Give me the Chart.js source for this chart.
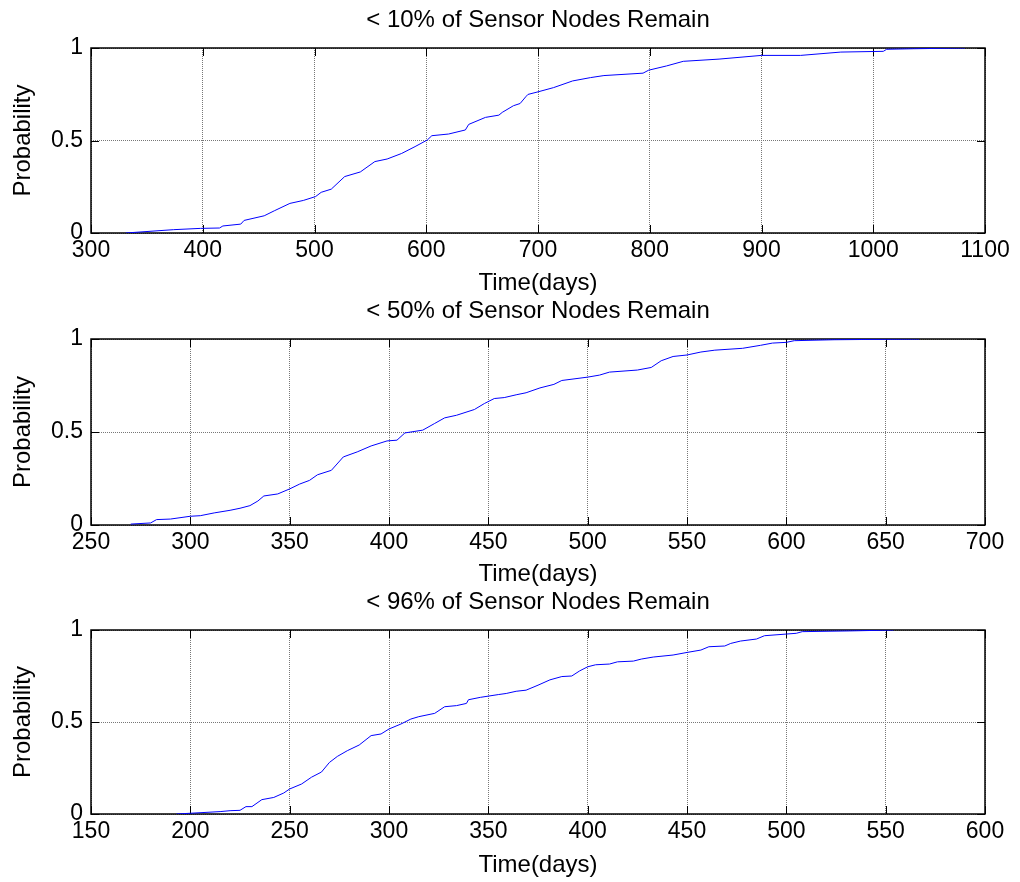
<!DOCTYPE html>
<html>
<head>
<meta charset="utf-8">
<title>Sensor network lifetime CDFs</title>
<script src="https://cdn.jsdelivr.net/npm/chart.js@4/dist/chart.umd.min.js"></script>
<style>
  body { margin: 0; background: #fff; }
  #wrap { position: relative; width: 1020px; height: 882px; }
  canvas { position: absolute; left: 0; }
</style>
</head>
<body>
<div id="wrap">
  <canvas id="c10" width="1020" height="300" style="top:0px"></canvas>
  <canvas id="c50" width="1020" height="300" style="top:291px"></canvas>
  <canvas id="c96" width="1020" height="300" style="top:582px"></canvas>
</div>
<script>
// empirical CDF of network lifetime, one panel per failure threshold
const days10 = [331, 374, 398, 415, 418, 434, 437, 455, 464, 478, 490, 501, 506, 515, 527, 541, 554, 565, 578, 590, 601, 605, 620, 635, 638, 653, 665, 668, 678, 684, 689, 691, 700, 714, 731, 747, 759, 794, 799, 815, 830, 862, 900, 935, 971, 1009, 1012, 1036, 1082];
const prob10 = [0, 0.018, 0.025, 0.027, 0.038, 0.048, 0.068, 0.093, 0.12, 0.16, 0.176, 0.197, 0.22, 0.237, 0.305, 0.33, 0.386, 0.40, 0.43, 0.467, 0.503, 0.526, 0.535, 0.557, 0.587, 0.625, 0.637, 0.652, 0.688, 0.70, 0.736, 0.749, 0.763, 0.786, 0.822, 0.84, 0.851, 0.864, 0.88, 0.903, 0.928, 0.94, 0.96, 0.96, 0.978, 0.982, 0.993, 0.996, 1.0];

const days50 = [270, 280, 283, 290, 300, 305, 312, 320, 325, 330, 334, 337, 344, 350, 355, 360, 364, 371, 377, 384, 391, 399, 404, 408, 417, 423, 428, 434, 443, 448, 453, 458, 464, 469, 476, 483, 487, 500, 506, 511, 525, 532, 537, 543, 550, 557, 564, 578, 587, 593, 600, 604, 624, 667];
const prob50 = [0.005, 0.011, 0.029, 0.032, 0.047, 0.05, 0.065, 0.079, 0.09, 0.104, 0.129, 0.156, 0.167, 0.194, 0.22, 0.24, 0.27, 0.294, 0.366, 0.393, 0.425, 0.452, 0.456, 0.495, 0.51, 0.546, 0.576, 0.59, 0.621, 0.653, 0.68, 0.685, 0.70, 0.711, 0.737, 0.756, 0.777, 0.795, 0.806, 0.822, 0.833, 0.847, 0.883, 0.906, 0.914, 0.93, 0.94, 0.95, 0.966, 0.978, 0.982, 0.991, 0.996, 1.0];

const days96 = [193, 200, 215, 220, 225, 228, 231, 236, 242, 247, 250, 256, 261, 266, 270, 274, 279, 285, 291, 296, 300, 306, 311, 315, 323, 328, 334, 339, 340, 346, 355, 359, 364, 369, 375, 381, 387, 392, 396, 400, 404, 411, 415, 423, 427, 433, 443, 450, 457, 461, 469, 472, 477, 485, 489, 500, 505, 508, 532, 554];
const prob96 = [0, 0.004, 0.013, 0.018, 0.02, 0.04, 0.04, 0.078, 0.09, 0.114, 0.136, 0.163, 0.2, 0.228, 0.28, 0.313, 0.344, 0.375, 0.426, 0.435, 0.462, 0.489, 0.516, 0.529, 0.547, 0.583, 0.589, 0.601, 0.621, 0.634, 0.649, 0.655, 0.667, 0.673, 0.70, 0.729, 0.747, 0.75, 0.778, 0.80, 0.811, 0.815, 0.827, 0.831, 0.842, 0.853, 0.864, 0.878, 0.891, 0.909, 0.913, 0.927, 0.94, 0.951, 0.969, 0.978, 0.982, 0.991, 0.995, 1.0];

// axis limits and tick spacing
const xRange10 = [300, 1100], xStep10 = 100;
const xRange50 = [250, 700], xStep50 = 50;
const xRange96 = [150, 600], xStep96 = 50;
const yRange = [0, 1], yStep = 0.5;

const FONT = 'Liberation Sans, Arial, Helvetica, sans-serif';

// plain number labels: "1" not "1.0", "1000" not "1,000"
const plainLabel = v => String(v);

// black frame with inward tick marks, drawn under the curve
const axesBox = {
  id: 'axesBox',
  beforeDatasetsDraw(chart) {
    const { ctx, chartArea: a, scales: { x, y } } = chart;
    const len = 8;
    ctx.save();
    ctx.strokeStyle = '#000';
    ctx.lineWidth = 1;
    ctx.beginPath();
    x.ticks.forEach(t => {
      const px = Math.round(x.getPixelForValue(t.value)) + 0.5;
      ctx.moveTo(px, a.bottom); ctx.lineTo(px, a.bottom - len);
      ctx.moveTo(px, a.top); ctx.lineTo(px, a.top + len);
    });
    y.ticks.forEach(t => {
      const py = Math.round(y.getPixelForValue(t.value)) + 0.5;
      ctx.moveTo(a.left, py); ctx.lineTo(a.left + len, py);
      ctx.moveTo(a.right, py); ctx.lineTo(a.right - len, py);
    });
    ctx.stroke();
    ctx.lineWidth = 1.5;
    ctx.strokeRect(a.left, a.top, a.right - a.left, a.bottom - a.top);
    ctx.restore();
  }
};

function makePanel(id, title, days, probs, xRange, xStep, plotBottom) {
  const canvas = document.getElementById(id);
  const points = days.map((d, i) => ({ x: d, y: probs[i] }));
  const tickFont = { family: FONT, size: 23, weight: 'normal' };
  const textFont = { family: FONT, size: 24, weight: 'normal' };

  return new Chart(canvas, {
    type: 'line',
    data: {
      datasets: [{
        data: points,
        borderColor: '#0000ff',
        borderWidth: 1,
        pointRadius: 0,
        tension: 0,
        fill: false
      }]
    },
    options: {
      responsive: false,
      animation: false,
      events: [],
      layout: { padding: { left: 0, right: 35, top: 0, bottom: 0 } },
      plugins: {
        legend: { display: false },
        tooltip: { enabled: false },
        title: {
          display: true,
          text: title,
          color: '#000',
          font: textFont,
          fullSize: false,
          padding: { top: 6, bottom: 13.2 }
        }
      },
      scales: {
        x: {
          type: 'linear',
          min: xRange[0],
          max: xRange[1],
          afterFit: s => { s.height = canvas.height - plotBottom; },
          ticks: { stepSize: xStep, color: '#000', font: tickFont, padding: 4, maxRotation: 0, callback: plainLabel },
          grid: { color: '#777', drawTicks: false, lineWidth: 1 },
          border: { display: false, dash: [1, 1] },
          title: { display: true, text: 'Time(days)', color: '#000', font: textFont, padding: { top: 0, bottom: 2.5 } }
        },
        y: {
          min: yRange[0],
          max: yRange[1],
          afterFit: s => { s.width = 91; },
          ticks: { stepSize: yStep, color: '#000', font: tickFont, padding: 8, callback: plainLabel },
          grid: { color: '#777', drawTicks: false, lineWidth: 1 },
          border: { display: false, dash: [1, 1] },
          title: { display: true, text: 'Probability', color: '#000', font: textFont, padding: { top: 8.5, bottom: 0 } }
        }
      }
    },
    plugins: [axesBox]
  });
}

makePanel('c10', '< 10% of Sensor Nodes Remain', days10, prob10, xRange10, xStep10, 233);
makePanel('c50', '< 50% of Sensor Nodes Remain', days50, prob50, xRange50, xStep50, 234);
makePanel('c96', '< 96% of Sensor Nodes Remain', days96, prob96, xRange96, xStep96, 232);
</script>
</body>
</html>
